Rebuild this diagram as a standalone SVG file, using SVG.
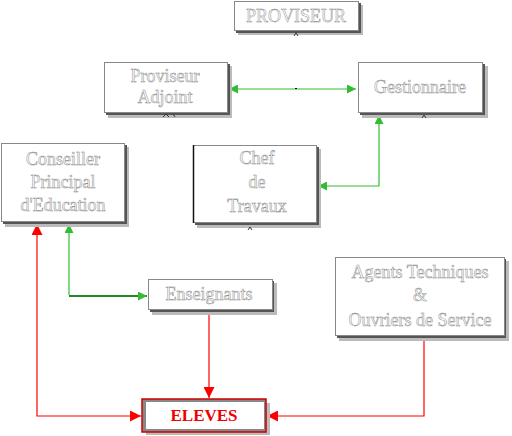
<svg xmlns="http://www.w3.org/2000/svg" width="512" height="436" viewBox="0 0 512 436">
<defs>
<style>
.box{fill:#fff;stroke:#888;stroke-width:1}
.sh1{fill:#555}
.sh2{fill:#bbb}
.t{font-family:"Liberation Serif","Times New Roman",serif;font-size:18px;fill:#fff;stroke:#8a8a8a;stroke-width:0.5;text-anchor:middle}
.g{fill:none;stroke:#33bb33;stroke-width:1.2}
.r{fill:none;stroke:#ff0000;stroke-width:1.2}
.tick{fill:none;stroke:#333;stroke-width:1}
</style>
<marker id="ag" viewBox="0 0 10 10" refX="10" refY="5" markerWidth="10" markerHeight="9" markerUnits="userSpaceOnUse" orient="auto-start-reverse"><path d="M0,0 L10,5 L0,10 Z" fill="#33bb33"/></marker>
<marker id="ar" viewBox="0 0 10 10" refX="10" refY="5" markerWidth="12" markerHeight="11" markerUnits="userSpaceOnUse" orient="auto-start-reverse"><path d="M0,0 L10,5 L0,10 Z" fill="#ff0000"/></marker>
</defs>
<rect width="512" height="436" fill="#fff"/>

<g id="connectors">
<path class="g" d="M229,89 H356" marker-start="url(#ag)" marker-end="url(#ag)"/>
<rect x="295" y="88" width="2" height="1" fill="#000"/>
<path class="g" d="M379,115 V186 H318" marker-start="url(#ag)" marker-end="url(#ag)"/>
<path class="g" d="M69,224 V295" marker-start="url(#ag)"/>
<path fill="none" stroke="#228822" stroke-width="2" d="M69,296 H147" marker-end="url(#ag)"/>
<path class="r" d="M37,224 V416 H141" marker-start="url(#ar)" marker-end="url(#ar)"/>
<path class="r" d="M209,311 V398" marker-end="url(#ar)"/>
<path class="r" d="M424,338 V416 H267" marker-end="url(#ar)"/>
</g>

<g id="proviseur">
<rect class="sh2" x="238" y="5" width="125" height="30"/>
<rect class="sh1" x="236" y="3" width="125" height="30"/>
<rect class="box" x="234.5" y="1.5" width="124" height="29"/>
<text class="t" x="296" y="22">PROVISEUR</text>
<path class="tick" d="M294,36 L296,33 L298,36"/>
</g>

<g id="proviseur-adjoint">
<rect class="sh2" x="108" y="66" width="124" height="52"/>
<rect class="sh1" x="106" y="64" width="124" height="51"/>
<rect class="box" x="104.5" y="62.5" width="123" height="50"/>
<text class="t" x="165" y="82">Proviseur</text>
<text class="t" x="165" y="103">Adjoint</text>
<path class="tick" d="M163,117 L166,114 L169,117 M173,114 L175,117"/>
</g>

<g id="gestionnaire">
<rect class="sh2" x="362" y="66" width="126" height="52"/>
<rect class="sh1" x="360" y="64" width="125" height="51"/>
<rect class="box" x="358.5" y="62.5" width="124" height="50"/>
<text class="t" x="420" y="93">Gestionnaire</text>
<path class="tick" d="M422,118 L424,115 L426,118"/>
</g>

<g id="conseiller">
<rect class="sh2" x="5" y="147" width="124" height="80"/>
<rect class="sh1" x="3" y="145" width="124" height="79"/>
<rect class="box" x="1.5" y="143.5" width="123" height="78"/>
<text class="t" x="63" y="165">Conseiller</text>
<text class="t" x="63" y="188">Principal</text>
<text class="t" x="63" y="211">d'Education</text>
</g>

<g id="chef-travaux">
<rect class="sh2" x="197" y="149" width="124" height="79"/>
<rect class="sh1" x="195" y="147" width="124" height="78"/>
<rect class="box" x="193.5" y="145.5" width="123" height="77"/>
<path d="M193.5,145 V223" stroke="#111" stroke-width="1.5"/>
<text class="t" x="257" y="164">Chef</text>
<text class="t" x="257" y="188">de</text>
<text class="t" x="257" y="212">Travaux</text>
<path class="tick" d="M248,230 L250,227 L252,230"/>
</g>

<g id="enseignants">
<rect class="sh2" x="152" y="283" width="125" height="32"/>
<rect class="sh1" x="150" y="281" width="124" height="31"/>
<rect class="box" x="148.5" y="279.5" width="124" height="30"/>
<text class="t" x="209" y="300">Enseignants</text>
</g>

<g id="agents">
<rect class="sh2" x="339" y="261" width="170" height="80"/>
<rect class="sh1" x="337" y="259" width="169" height="79"/>
<rect class="box" x="335.5" y="257.5" width="169" height="78"/>
<text class="t" x="420" y="278">Agents Techniques</text>
<text class="t" x="420" y="301">&amp;</text>
<text class="t" x="420" y="326">Ouvriers de Service</text>
</g>

<g id="eleves">
<rect x="146" y="403" width="124" height="32" fill="#bbb"/>
<rect x="142" y="399" width="124" height="33" fill="#888" stroke="#cc0000" stroke-width="1.5"/>
<rect x="146" y="402" width="118" height="27" fill="#fff"/>
<text x="204" y="421" font-family="'Liberation Serif','Times New Roman',serif" font-size="17" font-weight="bold" fill="#ee0000" text-anchor="middle">ELEVES</text>
</g>
</svg>
